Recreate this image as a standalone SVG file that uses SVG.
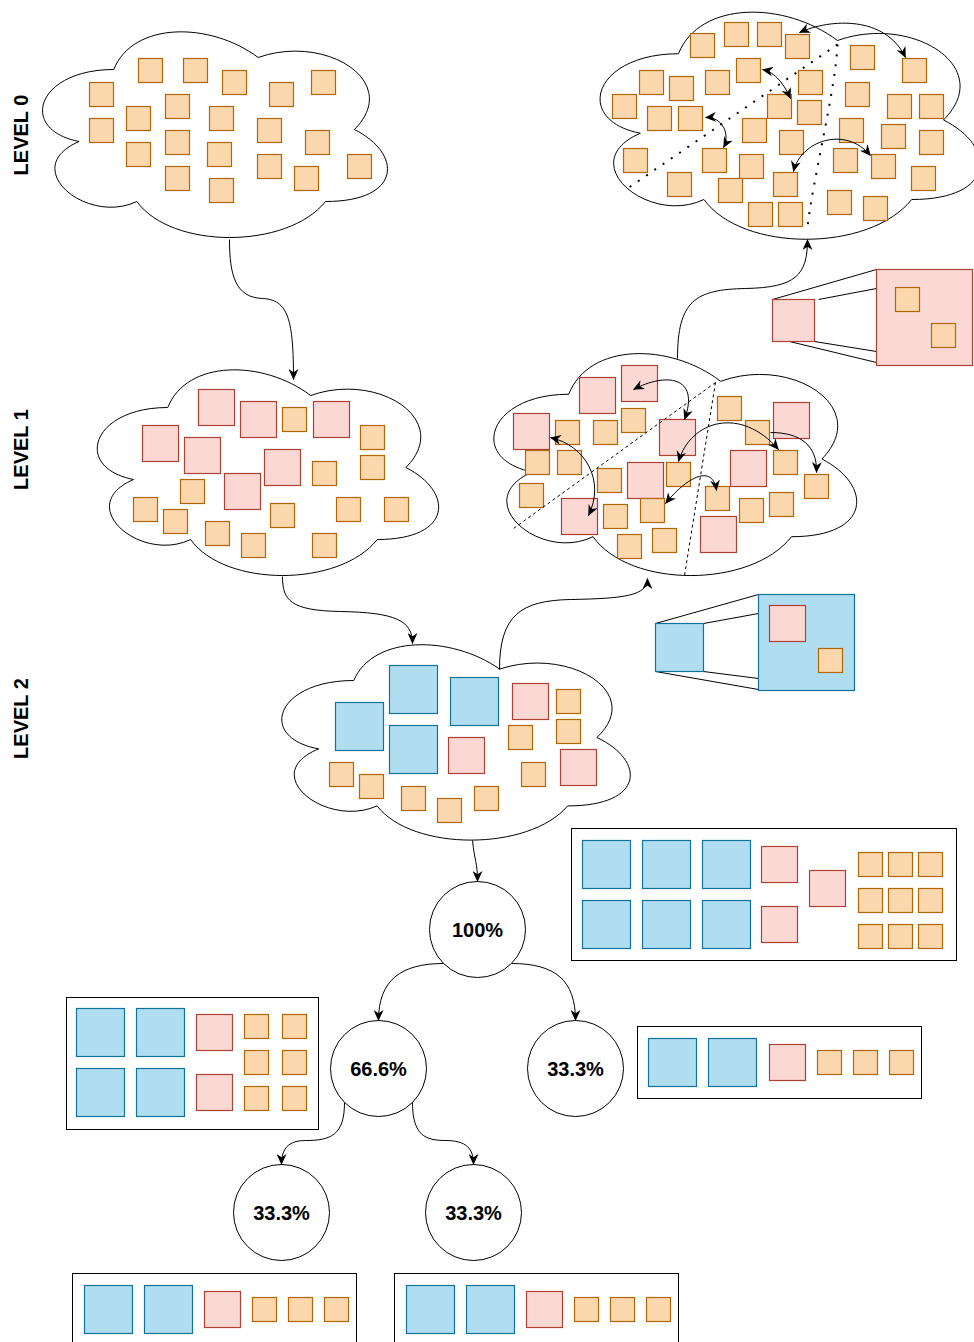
<svg xmlns="http://www.w3.org/2000/svg" width="974" height="1342" viewBox="0 0 974 1342">
<style>
.cloud{fill:#fff;stroke:#000;stroke-width:1}
.o{fill:#fad7ac;stroke:#b46504;stroke-width:1.2}
.p{fill:#fad9d5;stroke:#ae4132;stroke-width:1.2}
.b{fill:#b1ddf0;stroke:#10739e;stroke-width:1.2}
.edge{fill:none;stroke:#000;stroke-width:1}
.frame{fill:#fff;stroke:#000;stroke-width:1}
.ring{fill:#fff;stroke:#000;stroke-width:1}
.lbl{font-family:"Liberation Sans",Arial,Helvetica,sans-serif;font-weight:bold;font-size:20px;fill:#000;text-anchor:middle}
.dot{fill:none;stroke:#000;stroke-width:2;stroke-dasharray:2 8}
.dash{fill:none;stroke:#000;stroke-width:1;stroke-dasharray:3 3}
.zl{fill:none;stroke:#000;stroke-width:1}
</style>
<defs>
<rect id="so" class="o" width="24" height="24"/>
<rect id="sp" class="p" width="36" height="36"/>
<rect id="sb" class="b" width="48" height="48"/>
<marker id="arr" viewBox="0 0 10 9" refX="9.5" refY="4.5" markerWidth="11" markerHeight="10" markerUnits="userSpaceOnUse" orient="auto-start-reverse">
<path d="M0,0 L10,4.5 L0,9 L3,4.5 Z" fill="#000"/>
</marker>
</defs>
<g transform="translate(0.5,0.5)">

<!-- level captions -->
<g id="captions">
<text class="lbl" transform="translate(20,134.5) rotate(-90)" dy="7">LEVEL 0</text>
<text class="lbl" transform="translate(20,449) rotate(-90)" dy="7">LEVEL 1</text>
<text class="lbl" transform="translate(20,718) rotate(-90)" dy="7">LEVEL 2</text>
</g>

<!-- level 0: raw pool of small items -->
<g id="pool-l0">
<path class="cloud" d="M113.25,69 C36.25,69 17,129 78.6,141 C17,167.4 86.3,225 136.35,201 C171,249 286.5,249 325,201 C402,201 402,153 353.88,129 C402,81 325,33 257.63,57 C209.5,21 132.5,21 113.25,69 Z"/>
<use href="#so" x="138" y="58"/><use href="#so" x="183" y="58"/><use href="#so" x="222" y="70"/>
<use href="#so" x="269" y="82"/><use href="#so" x="311" y="70"/><use href="#so" x="89" y="82"/>
<use href="#so" x="165" y="94"/><use href="#so" x="209" y="106"/><use href="#so" x="126" y="106"/>
<use href="#so" x="89" y="118"/><use href="#so" x="257" y="118"/><use href="#so" x="305" y="130"/>
<use href="#so" x="165" y="130"/><use href="#so" x="207" y="142"/><use href="#so" x="126" y="142"/>
<use href="#so" x="257" y="154"/><use href="#so" x="347" y="154"/><use href="#so" x="294" y="166"/>
<use href="#so" x="165" y="166"/><use href="#so" x="209" y="178"/>
</g>

<!-- level 0: partitioned pool -->
<g id="pool-l0-split">
<path class="cloud" d="M678,53.25 C593.2,53.25 572,119.5 639.84,132.75 C572,161.9 648.32,225.5 703.44,199 C741.6,252 868.8,252 911.2,199 C996,199 996,146 943,119.5 C996,66.5 911.2,13.5 837,40 C784,0.25 699.2,0.25 678,53.25 Z"/>
<use href="#so" x="724" y="22"/><use href="#so" x="757" y="22"/><use href="#so" x="690" y="33"/>
<use href="#so" x="785" y="34"/><use href="#so" x="850" y="45"/><use href="#so" x="902" y="58"/>
<use href="#so" x="736" y="58"/><use href="#so" x="639" y="70"/><use href="#so" x="669" y="76"/>
<use href="#so" x="705" y="70"/><use href="#so" x="798" y="70"/><use href="#so" x="845" y="82"/>
<use href="#so" x="612" y="94"/><use href="#so" x="767" y="94"/><use href="#so" x="797" y="100"/>
<use href="#so" x="887" y="94"/><use href="#so" x="919" y="94"/><use href="#so" x="647" y="106"/>
<use href="#so" x="678" y="106"/><use href="#so" x="742" y="118"/><use href="#so" x="839" y="118"/>
<use href="#so" x="881" y="124"/><use href="#so" x="919" y="130"/><use href="#so" x="779" y="130"/>
<use href="#so" x="623" y="148"/><use href="#so" x="702" y="148"/><use href="#so" x="739" y="154"/>
<use href="#so" x="833" y="148"/><use href="#so" x="871" y="154"/><use href="#so" x="911" y="166"/>
<use href="#so" x="667" y="172"/><use href="#so" x="773" y="172"/><use href="#so" x="718" y="178"/>
<use href="#so" x="827" y="190"/><use href="#so" x="863" y="196"/><use href="#so" x="748" y="202"/>
<use href="#so" x="778" y="202"/>
<path class="dot" d="M837,44 L627,188"/>
<path class="dot" d="M837,44 C835,90 812,180 807,227"/>
</g>

<!-- level 1: mixed pool -->
<g id="pool-l1">
<path class="cloud" d="M167.25,407 C91.05,407 72,467 132.96,479 C72,505.4 140.58,563 190.11,539 C224.4,587 338.7,587 376.8,539 C453,539 453,491 405.38,467 C453,419 376.8,371 310.13,395 C262.5,359 186.3,359 167.25,407 Z"/>
<use href="#sp" x="198" y="389"/><use href="#sp" x="240" y="401"/><use href="#sp" x="313" y="401"/>
<use href="#sp" x="142" y="425"/><use href="#sp" x="184" y="437"/><use href="#sp" x="264" y="449"/>
<use href="#sp" x="224" y="473"/>
<use href="#so" x="282" y="407"/><use href="#so" x="360" y="425"/><use href="#so" x="360" y="455"/>
<use href="#so" x="312" y="461"/><use href="#so" x="180" y="479"/><use href="#so" x="133" y="497"/>
<use href="#so" x="163" y="509"/><use href="#so" x="205" y="521"/><use href="#so" x="241" y="533"/>
<use href="#so" x="270" y="503"/><use href="#so" x="336" y="497"/><use href="#so" x="384" y="497"/>
<use href="#so" x="312" y="533"/>
</g>

<!-- level 1: partitioned pool -->
<g id="pool-l1-split">
<path class="cloud" d="M568.25,393.75 C487.25,393.75 467,458.5 531.8,471.45 C467,499.94 539.9,562.1 592.55,536.2 C629,588 750.5,588 791,536.2 C872,536.2 872,484.4 821.38,458.5 C872,406.7 791,354.9 720.13,380.8 C669.5,341.95 588.5,341.95 568.25,393.75 Z"/>
<use href="#sp" x="579" y="377"/><use href="#sp" x="621" y="365"/><use href="#sp" x="513" y="413"/>
<use href="#sp" x="659" y="419"/><use href="#sp" x="773" y="402"/><use href="#sp" x="627" y="462"/>
<use href="#sp" x="730" y="450"/><use href="#sp" x="561" y="498"/><use href="#sp" x="700" y="516"/>
<use href="#so" x="555" y="420"/><use href="#so" x="593" y="420"/><use href="#so" x="621" y="408"/>
<use href="#so" x="717" y="396"/><use href="#so" x="745" y="420"/><use href="#so" x="525" y="450"/>
<use href="#so" x="557" y="450"/><use href="#so" x="597" y="468"/><use href="#so" x="666" y="462"/>
<use href="#so" x="773" y="450"/><use href="#so" x="804" y="474"/><use href="#so" x="519" y="483"/>
<use href="#so" x="705" y="486"/><use href="#so" x="640" y="498"/><use href="#so" x="603" y="504"/>
<use href="#so" x="739" y="498"/><use href="#so" x="769" y="492"/><use href="#so" x="652" y="528"/>
<use href="#so" x="617" y="534"/>
<path class="dash" d="M715,382 L513,528"/>
<path class="dash" d="M715,382 L684,575"/>
</g>

<!-- close-up: one level-1 item holds level-0 items -->
<g id="zoom-l1">
<path class="zl" d="M772,299 L876,269 M818,299 L876,288 M789,341 L876,362 M814,341 L876,351"/>
<rect class="p" x="772" y="299" width="42" height="42"/>
<rect class="p" x="876" y="269" width="96" height="96"/>
<use href="#so" x="895" y="287"/>
<use href="#so" x="931" y="323"/>
</g>

<!-- level 2: mixed pool -->
<g id="pool-l2">
<path class="cloud" d="M353.25,680 C275.45,680 256,737 318.24,748.4 C256,773.48 326.02,828.2 376.59,805.4 C411.6,851 528.3,851 567.2,805.4 C645,805.4 645,759.8 596.38,737 C645,691.4 567.2,645.8 499.13,668.6 C450.5,634.4 372.7,634.4 353.25,680 Z"/>
<use href="#sb" x="389" y="665"/><use href="#sb" x="450" y="677"/><use href="#sb" x="335" y="702"/>
<use href="#sb" x="389" y="725"/>
<use href="#sp" x="512" y="683"/><use href="#sp" x="448" y="737"/><use href="#sp" x="560" y="749"/>
<use href="#so" x="556" y="689"/><use href="#so" x="556" y="719"/><use href="#so" x="508" y="725"/>
<use href="#so" x="521" y="762"/><use href="#so" x="329" y="762"/><use href="#so" x="359" y="774"/>
<use href="#so" x="401" y="786"/><use href="#so" x="437" y="798"/><use href="#so" x="474" y="786"/>
</g>

<!-- close-up: one level-2 item holds lower-level items -->
<g id="zoom-l2">
<path class="zl" d="M655,623 L758,594 M703,623 L758,613 M655,671 L758,689 M703,671 L758,678"/>
<rect class="b" x="655" y="623" width="48" height="48"/>
<rect class="b" x="758" y="594" width="96" height="96"/>
<use href="#sp" x="769" y="605"/>
<use href="#so" x="818" y="648"/>
</g>

<!-- split tree -->
<g id="share-100">
<circle class="ring" cx="477" cy="929" r="48"/>
<text class="lbl" x="477" y="929" dy="7">100%</text>
</g>
<g id="bin-100">
<rect class="frame" x="571" y="828" width="385" height="132"/>
<use href="#sb" x="582" y="840"/><use href="#sb" x="642" y="840"/><use href="#sb" x="702" y="840"/>
<use href="#sb" x="582" y="900"/><use href="#sb" x="642" y="900"/><use href="#sb" x="702" y="900"/>
<use href="#sp" x="761" y="846"/><use href="#sp" x="761" y="906"/><use href="#sp" x="809" y="870"/>
<use href="#so" x="858" y="852"/><use href="#so" x="888" y="852"/><use href="#so" x="918" y="852"/>
<use href="#so" x="858" y="888"/><use href="#so" x="888" y="888"/><use href="#so" x="918" y="888"/>
<use href="#so" x="858" y="924"/><use href="#so" x="888" y="924"/><use href="#so" x="918" y="924"/>
</g>

<g id="share-66">
<circle class="ring" cx="378" cy="1068" r="48"/>
<text class="lbl" x="378" y="1068" dy="7">66.6%</text>
</g>
<g id="bin-66">
<rect class="frame" x="66" y="997" width="252" height="132"/>
<use href="#sb" x="76" y="1008"/><use href="#sb" x="136" y="1008"/>
<use href="#sb" x="76" y="1068"/><use href="#sb" x="136" y="1068"/>
<use href="#sp" x="196" y="1014"/><use href="#sp" x="196" y="1074"/>
<use href="#so" x="244" y="1014"/><use href="#so" x="282" y="1014"/>
<use href="#so" x="244" y="1050"/><use href="#so" x="282" y="1050"/>
<use href="#so" x="244" y="1086"/><use href="#so" x="282" y="1086"/>
</g>

<g id="share-33a">
<circle class="ring" cx="575" cy="1068" r="48"/>
<text class="lbl" x="575" y="1068" dy="7">33.3%</text>
</g>
<g id="bin-33a">
<rect class="frame" x="637" y="1026" width="284" height="72"/>
<use href="#sb" x="648" y="1038"/><use href="#sb" x="708" y="1038"/>
<use href="#sp" x="769" y="1044"/>
<use href="#so" x="817" y="1050"/><use href="#so" x="853" y="1050"/><use href="#so" x="889" y="1050"/>
</g>

<g id="share-33b">
<circle class="ring" cx="281" cy="1212" r="48"/>
<text class="lbl" x="281" y="1212" dy="7">33.3%</text>
</g>
<g id="bin-33b">
<rect class="frame" x="72" y="1273" width="284" height="72"/>
<use href="#sb" x="84" y="1285"/><use href="#sb" x="144" y="1285"/>
<use href="#sp" x="204" y="1291"/>
<use href="#so" x="252" y="1297"/><use href="#so" x="288" y="1297"/><use href="#so" x="324" y="1297"/>
</g>

<g id="share-33c">
<circle class="ring" cx="473" cy="1212" r="48"/>
<text class="lbl" x="473" y="1212" dy="7">33.3%</text>
</g>
<g id="bin-33c">
<rect class="frame" x="394" y="1273" width="284" height="72"/>
<use href="#sb" x="406" y="1285"/><use href="#sb" x="466" y="1285"/>
<use href="#sp" x="526" y="1291"/>
<use href="#so" x="574" y="1297"/><use href="#so" x="610" y="1297"/><use href="#so" x="646" y="1297"/>
</g>

<!-- connectors -->
<g id="connectors">
<path class="edge" marker-end="url(#arr)" d="M229,239 C229,275 235,297 262,298 C288,299 293,320 293,379"/>
<path class="edge" marker-end="url(#arr)" d="M282,576 C282,600 290,610 340,611 C395,612 412,620 412,643"/>
<path class="edge" marker-end="url(#arr)" d="M499,669 C499,615 520,600 570,599 C625,598 647,595 647,578"/>
<path class="edge" marker-end="url(#arr)" d="M677,358 C677,300 695,289 745,288 C795,287 807,275 807,239"/>
<path class="edge" marker-end="url(#arr)" d="M472,840 C474,860 477,862 477,881"/>
<path class="edge" marker-end="url(#arr)" d="M443,963 C400,963 378,980 378,1020"/>
<path class="edge" marker-end="url(#arr)" d="M511,963 C555,963 575,980 575,1020"/>
<path class="edge" marker-end="url(#arr)" d="M344,1102 C344,1135 330,1140 305,1140 C288,1140 281,1148 281,1164"/>
<path class="edge" marker-end="url(#arr)" d="M412,1102 C412,1135 425,1140 445,1140 C466,1140 473,1148 473,1164"/>
<!-- swaps inside the level-0 pool -->
<path class="edge" marker-start="url(#arr)" marker-end="url(#arr)" d="M799,32 C830,18 885,15 905,57"/>
<path class="edge" marker-start="url(#arr)" marker-end="url(#arr)" d="M762,69 C772,71 782,80 790,98"/>
<path class="edge" marker-start="url(#arr)" marker-end="url(#arr)" d="M705,117 C722,116 730,134 723,147"/>
<path class="edge" marker-start="url(#arr)" marker-end="url(#arr)" d="M793,171 C800,140 845,125 870,155"/>
<!-- swaps inside the level-1 pool -->
<path class="edge" marker-start="url(#arr)" marker-end="url(#arr)" d="M633,389 C665,372 700,375 684,419"/>
<path class="edge" marker-start="url(#arr)" marker-end="url(#arr)" d="M550,437 C585,445 605,480 588,515"/>
<path class="edge" marker-start="url(#arr)" marker-end="url(#arr)" d="M678,461 C690,420 740,405 778,449"/>
<path class="edge" marker-end="url(#arr)" d="M770,432 C800,432 817,445 816,472"/>
<path class="edge" marker-start="url(#arr)" marker-end="url(#arr)" d="M665,503 C685,478 712,462 716,490"/>
</g>
</g>
</svg>
